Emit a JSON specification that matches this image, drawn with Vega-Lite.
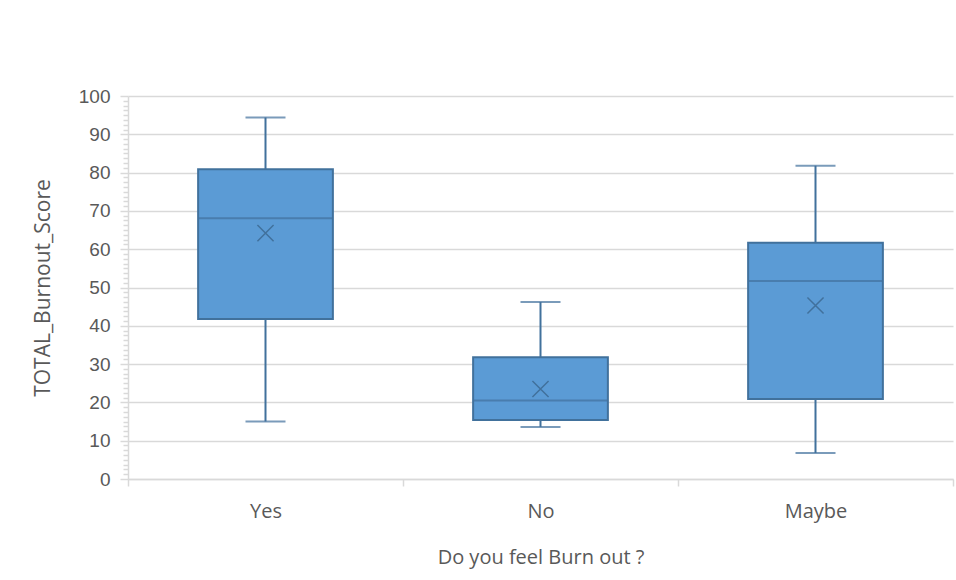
{
  "$schema": "https://vega.github.io/schema/vega-lite/v6.json",
  "width": 825,
  "height": 383,
  "autosize": {"type": "none"},
  "padding": {"left": 128, "top": 96, "right": 3, "bottom": 101},
  "background": "white",
  "config": {
    "view": {"stroke": null},
    "axis": {
      "labelColor": "#595959",
      "titleColor": "#595959",
      "titleFontWeight": "normal",
      "domainColor": "#d9d9d9",
      "domainWidth": 1.5,
      "tickColor": "#d9d9d9",
      "tickWidth": 1.5,
      "gridColor": "#d9d9d9",
      "gridWidth": 1.5
    },
    "axisY": {
      "titleFont": "Open Sans",
      "titleFontSize": 21,
      "titlePadding": 25,
      "labelFont": "Liberation Sans",
      "labelFontSize": 19,
      "labelPadding": 10,
      "labelOverlap": false,
      "labelExpr": "datum.value % 10 === 0 ? datum.label : ''",
      "tickSize": {"condition": {"test": "datum.value % 10 === 0", "value": 8}, "value": 5}
    }
  },
  "data": {
    "values": [
      {"burnout": "Yes", "min": 15.0, "q1": 41.8, "median": 68.1, "q3": 80.9, "max": 94.4, "mean": 64.2},
      {"burnout": "No", "min": 13.6, "q1": 15.4, "median": 20.5, "q3": 31.8, "max": 46.2, "mean": 23.5},
      {"burnout": "Maybe", "min": 6.8, "q1": 20.9, "median": 51.7, "q3": 61.7, "max": 81.8, "mean": 45.3}
    ]
  },
  "params": [
    {"name": "yTicks", "value": [0, 1.25, 2.5, 3.75, 5, 6.25, 7.5, 8.75, 10, 11.25, 12.5, 13.75, 15, 16.25, 17.5, 18.75, 20, 21.25, 22.5, 23.75, 25, 26.25, 27.5, 28.75, 30, 31.25, 32.5, 33.75, 35, 36.25, 37.5, 38.75, 40, 41.25, 42.5, 43.75, 45, 46.25, 47.5, 48.75, 50, 51.25, 52.5, 53.75, 55, 56.25, 57.5, 58.75, 60, 61.25, 62.5, 63.75, 65, 66.25, 67.5, 68.75, 70, 71.25, 72.5, 73.75, 75, 76.25, 77.5, 78.75, 80, 81.25, 82.5, 83.75, 85, 86.25, 87.5, 88.75, 90, 91.25, 92.5, 93.75, 95, 96.25, 97.5, 98.75, 100]}
  ],
  "encoding": {
    "x": {
      "field": "burnout",
      "type": "nominal",
      "sort": ["Yes", "No", "Maybe"],
      "scale": {"paddingInner": 0, "paddingOuter": 0},
      "axis": {
        "title": "Do you feel Burn out ?",
        "labelAngle": 0,
        "labelFont": "Open Sans",
        "labelFontSize": 20,
        "labelPadding": 15,
        "tickBand": "extent",
        "tickSize": 7,
        "titleFont": "Open Sans",
        "titleFontSize": 20,
        "titlePadding": 26,
        "grid": false
      }
    }
  },
  "layer": [
    {
      "mark": {"type": "rule", "color": "#41719c", "strokeWidth": 2},
      "encoding": {
        "y": {
          "field": "min",
          "type": "quantitative",
          "scale": {"domain": [0, 100], "nice": false},
          "axis": {"title": "TOTAL_Burnout_Score", "values": {"expr": "yTicks"}, "grid": true, "gridOpacity": {"condition": {"test": "datum.value % 10 === 0", "value": 1}, "value": 0}}
        },
        "y2": {"field": "max"}
      }
    },
    {
      "mark": {"type": "tick", "color": "#41719c", "thickness": 2, "size": 40},
      "encoding": {"y": {"field": "min", "type": "quantitative", "axis": {"title": "TOTAL_Burnout_Score", "values": {"expr": "yTicks"}, "grid": true, "gridOpacity": {"condition": {"test": "datum.value % 10 === 0", "value": 1}, "value": 0}}}}
    },
    {
      "mark": {"type": "tick", "color": "#41719c", "thickness": 2, "size": 40},
      "encoding": {"y": {"field": "max", "type": "quantitative", "axis": {"title": "TOTAL_Burnout_Score", "values": {"expr": "yTicks"}, "grid": true, "gridOpacity": {"condition": {"test": "datum.value % 10 === 0", "value": 1}, "value": 0}}}}
    },
    {
      "mark": {"type": "bar", "color": "#5b9bd5", "stroke": "#41719c", "strokeWidth": 2, "width": {"band": 0.49}},
      "encoding": {
        "y": {"field": "q1", "type": "quantitative", "axis": {"title": "TOTAL_Burnout_Score", "values": {"expr": "yTicks"}, "grid": true, "gridOpacity": {"condition": {"test": "datum.value % 10 === 0", "value": 1}, "value": 0}}},
        "y2": {"field": "q3"}
      }
    },
    {
      "mark": {"type": "tick", "color": "#41719c", "thickness": 2, "size": 135},
      "encoding": {"y": {"field": "median", "type": "quantitative", "axis": {"title": "TOTAL_Burnout_Score", "values": {"expr": "yTicks"}, "grid": true, "gridOpacity": {"condition": {"test": "datum.value % 10 === 0", "value": 1}, "value": 0}}}}
    },
    {
      "mark": {
        "type": "point",
        "shape": "M-1,-1L1,1M-1,1L1,-1",
        "filled": false,
        "stroke": "#41719c",
        "strokeWidth": 1.5,
        "opacity": 1,
        "size": 260
      },
      "encoding": {"y": {"field": "mean", "type": "quantitative", "axis": {"title": "TOTAL_Burnout_Score", "values": {"expr": "yTicks"}, "grid": true, "gridOpacity": {"condition": {"test": "datum.value % 10 === 0", "value": 1}, "value": 0}}}}
    }
  ]
}
